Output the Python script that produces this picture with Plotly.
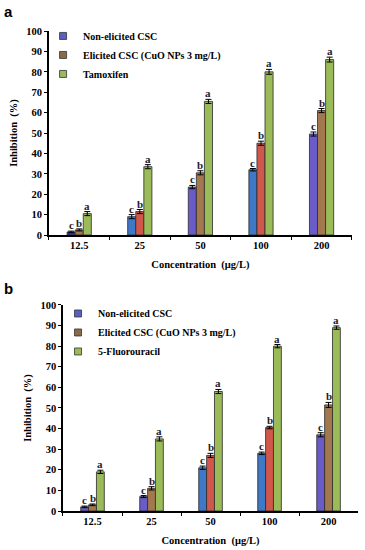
import plotly.graph_objects as go

categories = ["12.5", "25", "50", "100", "200"]
series_names_a = ["Non-elicited CSC", "Elicited CSC (CuO NPs 3 mg/L)", "Tamoxifen"]
series_names_b = ["Non-elicited CSC", "Elicited CSC (CuO NPs 3 mg/L)", "5-Fluorouracil"]

a_non = [1.5, 9.0, 23.5, 32.0, 49.5]
a_eli = [2.5, 11.5, 30.5, 45.0, 61.0]
a_tam = [10.5, 33.5, 65.5, 80.0, 86.0]
a_non_err = [0.4, 1.0, 0.8, 0.6, 1.0]
a_eli_err = [0.5, 1.0, 1.0, 1.0, 1.0]
a_tam_err = [1.0, 1.0, 1.0, 1.2, 1.2]

b_non = [2.0, 7.0, 21.0, 28.0, 37.0]
b_eli = [3.0, 11.0, 27.0, 40.5, 51.5]
b_5fu = [19.0, 35.0, 58.0, 80.0, 89.0]
b_non_err = [0.4, 0.5, 0.8, 0.6, 1.0]
b_eli_err = [0.4, 0.8, 1.0, 0.6, 1.2]
b_5fu_err = [0.8, 1.0, 1.0, 0.8, 0.8]

letters = ["c", "b", "a"]
y_ticks = [0, 10, 20, 30, 40, 50, 60, 70, 80, 90, 100]

BLUE, PURP, NAVY = "#3f78c6", "#6a5cc8", "#3b3f9a"
BROWN, RED = "#a4784f", "#d0574b"
GREEN = "#9bbb59"
colors_a = [[NAVY, BLUE, PURP, BLUE, PURP], [BROWN, RED, BROWN, RED, BROWN], [GREEN] * 5]
colors_b = [[PURP, PURP, BLUE, BLUE, PURP], [BROWN, BROWN, RED, RED, BROWN], [GREEN] * 5]
legend_colors = ["#5a5fc4", "#8a6a48", GREEN]

SERIF = "Liberation Serif"
BARGAP = 0.6

fig = go.Figure()

panels = [
    ("x", "y", "legend", [a_non, a_eli, a_tam], [a_non_err, a_eli_err, a_tam_err], series_names_a, colors_a),
    ("x2", "y2", "legend2", [b_non, b_eli, b_5fu], [b_non_err, b_eli_err, b_5fu_err], series_names_b, colors_b),
]

annotations = []
for xa, ya, lg, vals, errs, names, cols in panels:
    for i, (v, e, n, c) in enumerate(zip(vals, errs, names, cols)):
        fig.add_trace(go.Bar(
            x=categories, y=v, name=n, xaxis=xa, yaxis=ya,
            marker=dict(color=c, line=dict(color="#2a2a2a", width=0.8)),
            error_y=dict(type="data", array=e, color="black", thickness=1, width=3),
            showlegend=False,
        ))
        # legend proxy (uniform colour), not part of bar grouping
        fig.add_trace(go.Scatter(
            x=[None], y=[None], name=n, xaxis=xa, yaxis=ya, legend=lg, mode="markers",
            marker=dict(symbol="square", size=7, color=legend_colors[i], line=dict(color="#333", width=0.8)),
            showlegend=True,
        ))
        w = (1 - BARGAP) / 3
        for k, (yy, ee) in enumerate(zip(v, e)):
            annotations.append(dict(
                x=k + (i - 1) * w, y=yy + ee, xref=xa, yref=ya, text="<b>" + letters[i] + "</b>",
                showarrow=False, yanchor="bottom", yshift=-2,
                font=dict(family=SERIF, size=11, color="#1c1c30"),
            ))

axis_common = dict(showline=True, linecolor="black", linewidth=1.5, ticks="outside",
                   ticklen=3, tickcolor="black", showgrid=False, zeroline=False, automargin=False,
                   tickfont=dict(family=SERIF, size=10.5, color="black", weight="bold"))
title_font = dict(family=SERIF, size=10.5, color="black", weight="bold")
legend_font = dict(family=SERIF, size=10, color="black", weight="bold")

fig.update_layout(
    width=365, height=550, margin=dict(l=0, r=0, t=0, b=0),
    paper_bgcolor="white", plot_bgcolor="white",
    barmode="group", bargap=BARGAP, bargroupgap=0,
    xaxis=dict(domain=[0.134, 0.964], anchor="y", type="category", tickson="boundaries",
               range=[-0.5, 4.5], **axis_common,
               title=dict(text="Concentration  (μg/L)", font=title_font, standoff=10)),
    yaxis=dict(domain=[0.5727, 0.9436], anchor="x", range=[0, 100], tickvals=y_ticks, **axis_common,
               title=dict(text="Inhibition  (%)", font=title_font, standoff=7)),
    xaxis2=dict(domain=[0.1726, 0.981], anchor="y2", type="category", tickson="boundaries",
                range=[-0.5, 4.5], **axis_common,
                title=dict(text="Concentration  (μg/L)", font=title_font, standoff=10)),
    yaxis2=dict(domain=[0.0709, 0.4455], anchor="x2", range=[0, 100], tickvals=y_ticks, **axis_common,
                title=dict(text="Inhibition  (%)", font=title_font, standoff=7)),
    legend=dict(x=0.118, y=0.961, xanchor="left", yanchor="top", bgcolor="rgba(0,0,0,0)",
                font=legend_font, itemwidth=30, tracegroupgap=0, traceorder="normal"),
    legend2=dict(x=0.159, y=0.4564, xanchor="left", yanchor="top", bgcolor="rgba(0,0,0,0)",
                 font=legend_font, itemwidth=30, tracegroupgap=0, traceorder="normal"),
    annotations=annotations + [
        dict(text="<b>a</b>", x=0.005, y=0.998, xref="paper", yref="paper", xanchor="left", yanchor="top",
             showarrow=False, font=dict(family="Liberation Sans", size=15, color="black")),
        dict(text="<b>b</b>", x=0.005, y=0.494, xref="paper", yref="paper", xanchor="left", yanchor="top",
             showarrow=False, font=dict(family="Liberation Sans", size=15, color="black")),
    ],
)

fig.write_html("out.html", config={"displayModeBar": False},
               post_script="document.body.style.margin='0';document.body.style.overflow='hidden';")
